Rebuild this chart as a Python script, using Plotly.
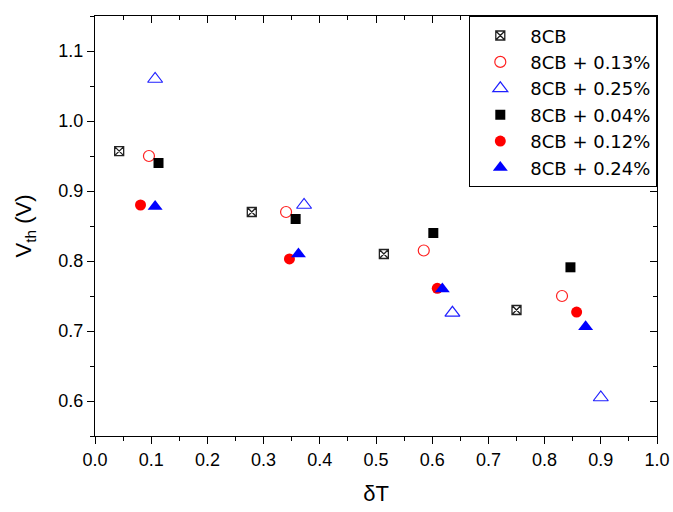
import plotly.graph_objects as go

names = ["8CB", "8CB + 0.13%", "8CB + 0.25%", "8CB + 0.04%", "8CB + 0.12%", "8CB + 0.24%"]
x_8cb = [0.043, 0.279, 0.514, 0.750]
y_8cb = [0.957, 0.870, 0.810, 0.730]
x_013 = [0.096, 0.340, 0.585, 0.831]
y_013 = [0.950, 0.870, 0.815, 0.750]
x_025 = [0.107, 0.372, 0.636, 0.900]
y_025 = [1.060, 0.880, 0.726, 0.605]
x_004 = [0.113, 0.357, 0.602, 0.846]
y_004 = [0.940, 0.860, 0.840, 0.791]
x_012 = [0.081, 0.346, 0.609, 0.857]
y_012 = [0.880, 0.803, 0.761, 0.727]
x_024 = [0.107, 0.362, 0.618, 0.873]
y_024 = [0.878, 0.810, 0.760, 0.706]

xs = [x_8cb, x_013, x_025, x_004, x_012, x_024]
ys = [y_8cb, y_013, y_025, y_004, y_012, y_024]
styles = [
    dict(symbol="square-x-open", size=9, color="#222222", line=dict(width=1.3, color="#222222")),
    dict(symbol="circle-open", size=11, color="#FF2020", line=dict(width=1.2, color="#FF2020")),
    dict(symbol="triangle-up-open", size=13, color="#2020FF", line=dict(width=1.2, color="#2020FF")),
    dict(symbol="square", size=10, color="black"),
    dict(symbol="circle", size=11, color="#FF0000"),
    dict(symbol="triangle-up", size=13, color="#0000FF"),
]

FONT = "Arial, Liberation Sans, sans-serif"
WIDE = "DejaVu Sans, Arial, sans-serif"
fig = go.Figure()
for n, x, y, s in zip(names, xs, ys, styles):
    fig.add_trace(go.Scatter(x=x, y=y, mode="markers", name=n, marker=s))

# invisible trace so the mirrored top/right axes are drawn
fig.add_trace(go.Scatter(x=x_8cb, y=y_8cb, xaxis="x2", yaxis="y2", mode="markers",
                         marker=dict(opacity=0), showlegend=False, hoverinfo="skip"))

tickfont = dict(family=FONT, size=18, color="black")
common = dict(showline=True, linecolor="black", linewidth=1.3, showgrid=False, zeroline=False,
              tickcolor="black", tickwidth=1.3, ticklen=7)
minor_out = dict(ticks="outside", ticklen=4, dtick=0.05, tickcolor="black", tickwidth=1.3)
minor_in = dict(ticks="inside", ticklen=4, dtick=0.05, tickcolor="black", tickwidth=1.3)
fig.update_layout(
    width=673, height=512,
    margin=dict(l=95, r=16, t=16, b=76, autoexpand=False),
    paper_bgcolor="white", plot_bgcolor="white",
    font=dict(family=FONT, color="black"),
    showlegend=True,
    xaxis=dict(range=[0, 1], dtick=0.1, tickformat=".1f", ticks="outside", tickfont=tickfont,
               title=dict(text="δT", font=dict(family=FONT, size=22), standoff=16),
               minor=minor_out, **common),
    yaxis=dict(range=[0.55, 1.15], dtick=0.1, tick0=0.6, tickformat=".1f", ticks="outside", tickfont=tickfont,
               title=dict(text="V<sub>th</sub> (V)", font=dict(family=FONT, size=22), standoff=20),
               minor=minor_out, **common),
    xaxis2=dict(range=[0, 1], dtick=0.1, overlaying="x", side="top", anchor="y", ticks="inside",
                showticklabels=False, minor=minor_in, **common),
    yaxis2=dict(range=[0.55, 1.15], dtick=0.1, tick0=0.6, overlaying="y", side="right", anchor="x",
                ticks="inside", showticklabels=False, minor=minor_in, **common),
    legend=dict(x=1, y=1, xanchor="right", yanchor="top", bgcolor="white",
                bordercolor="black", borderwidth=1.3,
                font=dict(family=WIDE, size=18, color="black"),
                itemwidth=50, tracegroupgap=0),
)
fig.write_html("out.html", config={"displayModeBar": False},
               post_script="document.body.style.margin='0';")
